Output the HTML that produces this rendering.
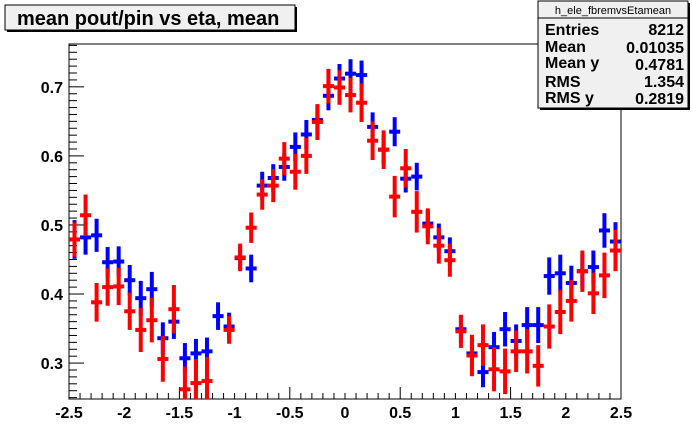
<!DOCTYPE html>
<html><head><meta charset="utf-8"><style>
html,body{margin:0;padding:0;background:#fff;}
svg{display:block;font-family:"Liberation Sans",Arial,sans-serif;}
</style></head><body>
<svg id="c" width="692" height="444" viewBox="0 0 692 444" xmlns="http://www.w3.org/2000/svg">
<rect x="0" y="0" width="692" height="444" fill="#fff"/>
<rect x="69" y="44" width="552" height="355" fill="#fff" stroke="#000" stroke-width="1"/>
<g id="axes"></g>
<g id="marks"></g>
<g>
<rect x="7" y="7" width="290" height="25" fill="#000"/>
<rect x="5" y="5" width="290" height="25" fill="#f0f0f0" stroke="#000" stroke-width="1"/>
<text x="17" y="25" font-size="20" font-weight="bold">mean pout/pin vs eta, mean</text>
</g>
<g>
<rect x="540" y="3" width="150" height="107" fill="#000"/>
<rect x="538" y="1" width="150" height="107" fill="#f0f0f0" stroke="#000" stroke-width="1"/>
<line x1="538" y1="18" x2="688" y2="18" stroke="#000"/>
<text x="613" y="14" font-size="11" text-anchor="middle">h_ele_fbremvsEtamean</text>
<g font-size="16" font-weight="bold">
<text x="545" y="35">Entries</text><text x="684" y="35" text-anchor="end">8212</text>
<text x="545" y="52">Mean</text><text x="684" y="53" text-anchor="end">0.01035</text>
<text x="545" y="68">Mean y</text><text x="684" y="70" text-anchor="end">0.4781</text>
<text x="545" y="87">RMS</text><text x="684" y="87" text-anchor="end">1.354</text>
<text x="545" y="103">RMS y</text><text x="684" y="104" text-anchor="end">0.2819</text>
</g>
</g>
</svg>
<script>
const binCenters=[-2.45,-2.35,-2.25,-2.15,-2.05,-1.95,-1.85,-1.75,-1.65,-1.55,-1.45,-1.35,-1.25,-1.15,-1.05,-0.95,-0.85,-0.75,-0.65,-0.55,-0.45,-0.35,-0.25,-0.15,-0.05,0.05,0.15,0.25,0.35,0.45,0.55,0.65,0.75,0.85,0.95,1.05,1.15,1.25,1.35,1.45,1.55,1.65,1.75,1.85,1.95,2.05,2.15,2.25,2.35,2.45];
const blueMeans=[0.479,0.482,0.485,0.446,0.447,0.420,0.394,0.407,0.336,0.360,0.307,0.314,0.317,0.368,0.353,0.452,0.437,0.557,0.568,0.584,0.613,0.631,0.652,0.687,0.712,0.719,0.717,0.642,0.609,0.635,0.567,0.570,0.502,0.482,0.462,0.349,0.314,0.287,0.323,0.349,0.332,0.355,0.355,0.426,0.430,0.416,0.433,0.439,0.492,0.476];
const redMeans=[0.479,0.514,0.388,0.410,0.411,0.375,0.348,0.362,0.306,0.378,0.262,0.271,0.274,0.200,0.348,0.453,0.496,0.544,0.557,0.596,0.577,0.600,0.649,0.701,0.699,0.688,0.677,0.622,0.609,0.541,0.582,0.519,0.498,0.470,0.449,0.346,0.311,0.326,0.291,0.288,0.317,0.317,0.296,0.353,0.374,0.390,0.433,0.401,0.427,0.463];
const blueErrs=[0.028,0.025,0.024,0.022,0.022,0.022,0.025,0.025,0.023,0.025,0.022,0.021,0.020,0.020,0.020,0.018,0.020,0.020,0.020,0.020,0.021,0.021,0.021,0.021,0.021,0.021,0.021,0.021,0.021,0.021,0.020,0.020,0.020,0.020,0.020,0.020,0.022,0.022,0.022,0.025,0.024,0.026,0.026,0.027,0.027,0.025,0.024,0.024,0.025,0.028];
const redErrs=[0.025,0.030,0.028,0.027,0.027,0.027,0.032,0.032,0.033,0.035,0.033,0.035,0.035,0.030,0.020,0.020,0.022,0.022,0.024,0.024,0.026,0.026,0.026,0.025,0.025,0.025,0.028,0.028,0.028,0.030,0.028,0.030,0.026,0.026,0.024,0.024,0.030,0.030,0.032,0.033,0.030,0.032,0.030,0.032,0.032,0.030,0.030,0.030,0.033,0.030];
const xTicks=[-2.5,-2,-1.5,-1,-0.5,0,0.5,1,1.5,2,2.5];
const xTickLabels=["-2.5","-2","-1.5","-1","-0.5","0","0.5","1","1.5","2","2.5"];
const yTicks=[0.3,0.4,0.5,0.6,0.7];
const yTickLabels=["0.3","0.4","0.5","0.6","0.7"];
const binWidth=0.1;
const X0=69,X1=621,Y0=399,Y1=44,xmin=-2.5,xmax=2.5,ymin=0.248,ymax=0.762;
function sx(v){return X0+(v-xmin)/(xmax-xmin)*(X1-X0);}
function sy(v){return Y0-(v-ymin)/(ymax-ymin)*(Y0-Y1);}
const NS="http://www.w3.org/2000/svg";
function mk(tag,attrs,parent){const e=document.createElementNS(NS,tag);for(const k in attrs)e.setAttribute(k,attrs[k]);parent.appendChild(e);return e;}
const axes=document.getElementById('axes');
for(let i=0;i<=50;i++){const v=xmin+i*0.1;const len=(i%10===0)?12:6;
 const t=mk('line',{x1:sx(v),y1:Y0,x2:sx(v),y2:Y0-len,stroke:'#000'},axes);
 
 }
xTicks.forEach((v,i)=>{const t=mk('text',{x:sx(v),y:Y0+19,'font-size':16,'font-weight':'bold','text-anchor':'middle'},axes);t.textContent=xTickLabels[i];
 
 });
for(let k=0;k<60;k++){const v=0.25+k*0.01;if(v>ymax)break;if(v<ymin)continue;const major=Math.abs(Math.round(v*10)-v*10)<1e-6;
 const t=mk('line',{x1:X0,y1:sy(v),x2:X0+(major?15:8),y2:sy(v),stroke:'#000'},axes);
 
 }
yTicks.forEach((v,i)=>{const t=mk('text',{x:X0-6,y:sy(v)+6,'font-size':16,'font-weight':'bold','text-anchor':'end'},axes);t.textContent=yTickLabels[i];
 
 });
const marks=document.getElementById('marks');
mk('clipPath',{id:'clip'},marks);
document.getElementById('clip').appendChild(document.createElementNS(NS,'rect'));
const cr=document.querySelector('#clip rect');cr.setAttribute('x',X0);cr.setAttribute('y',Y1);cr.setAttribute('width',X1-X0);cr.setAttribute('height',Y0-Y1);
function series(means,errs,color,name){
 const g=mk('g',{'clip-path':'url(#clip)',stroke:color,'stroke-width':4},marks);
 
 
 means.forEach((m,i)=>{const c=binCenters[i];
  const h=mk('line',{x1:sx(c-binWidth/2),y1:sy(m),x2:sx(c+binWidth/2),y2:sy(m)},g);
  
  
  const v=mk('line',{x1:sx(c),y1:sy(m-errs[i]),x2:sx(c),y2:sy(m+errs[i])},g);
  
  
 });
}
series(blueMeans,blueErrs,'#0000ff','blue-series');
series(redMeans,redErrs,'#ff0000','red-series');
</script>
</body></html>
